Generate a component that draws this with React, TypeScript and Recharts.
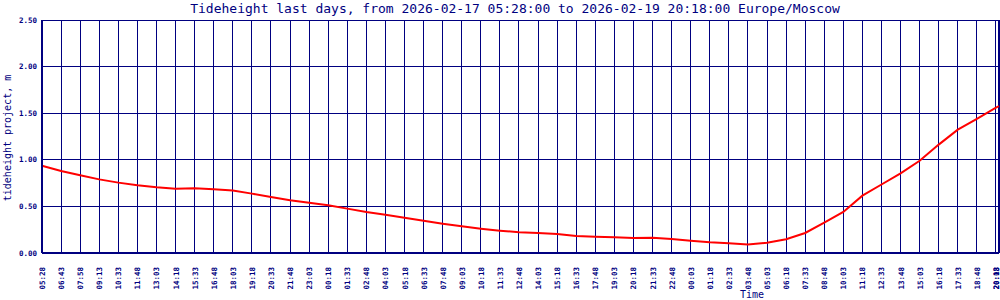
import React from 'react';
import {
  LineChart,
  Line,
  XAxis,
  YAxis,
  CartesianGrid,
  ReferenceLine
} from 'recharts';

// tick labels along the time axis (one every 75 min, plus the final sample)
const TIME_LABELS = [
  '05:28', '06:43', '07:58', '09:13', '10:33', '11:48', '13:03', '14:18', '15:33', '16:48',
  '18:03', '19:18', '20:33', '21:48', '23:03', '00:18', '01:33', '02:48', '04:03', '05:18',
  '06:33', '07:48', '09:03', '10:18', '11:33', '12:48', '14:03', '15:18', '16:33', '17:48',
  '19:03', '20:18', '21:33', '22:48', '00:03', '01:18', '02:33', '03:48', '05:03', '06:18',
  '07:33', '08:48', '10:03', '11:18', '12:33', '13:48', '15:03', '16:18', '17:33', '18:48',
  '20:03', '20:18'
];

// tide height, m, read at each label
const TIDE_HEIGHT = [
  0.937, 0.88, 0.834, 0.79, 0.755, 0.726, 0.705, 0.69, 0.694, 0.685,
  0.67, 0.637, 0.6, 0.565, 0.54, 0.512, 0.476, 0.44, 0.411, 0.379,
  0.347, 0.315, 0.286, 0.261, 0.24, 0.222, 0.214, 0.204, 0.182, 0.175,
  0.168, 0.161, 0.164, 0.15, 0.132, 0.115, 0.104, 0.09, 0.11, 0.147,
  0.215, 0.325, 0.44, 0.615, 0.735, 0.855, 0.99, 1.163, 1.323, 1.44,
  1.56, 1.575
];

const Y_TICKS = [0, 0.5, 1, 1.5, 2, 2.5];

const STEP_MIN = 75;   // spacing of the labelled samples
const END_MIN = 3762;  // last sample (20:18)

const NAVY = '#000080';

const minutes = TIME_LABELS.map((_, i) => (i === TIME_LABELS.length - 1 ? END_MIN : i * STEP_MIN));
const data = minutes.map((t, i) => ({ t, h: TIDE_HEIGHT[i] }));

const XTick = ({ x, y, payload }: any) => {
  const idx = minutes.indexOf(payload.value);
  const label = TIME_LABELS[idx] ?? '';
  // the final label sits on the frame edge, nudge it inside
  const tx = idx === TIME_LABELS.length - 1 ? x : x + 3;
  return (
    <text
      x={tx}
      y={y + 6}
      transform={`rotate(-90, ${tx}, ${y + 6})`}
      textAnchor="end"
      fill={NAVY}
      fontSize={7.5}
      fontWeight="bold"
      fontFamily="DejaVu Sans Mono"
    >
      {label}
    </text>
  );
};

const YTick = ({ y, payload }: any) => (
  <text
    x={37}
    y={y + 2.5}
    textAnchor="end"
    fill={NAVY}
    fontSize={7.5}
    fontWeight="bold"
    fontFamily="DejaVu Sans Mono"
  >
    {payload.value.toFixed(2)}
  </text>
);

export default function App() {
  return (
    <div style={{ position: 'absolute', left: 0, top: 0, width: 1000, height: 300, background: '#fff' }}>
      <style>{`
        .recharts-cartesian-grid line,
        .recharts-cartesian-axis-line,
        .recharts-reference-line line { shape-rendering: crispEdges; }
      `}</style>
      <LineChart
        width={1000}
        height={300}
        data={data}
        margin={{ top: 20, right: 1, left: 0, bottom: 0 }}
      >
        <text
          x={515}
          y={13}
          textAnchor="middle"
          fill={NAVY}
          fontSize={13}
          fontFamily="DejaVu Sans Mono"
        >
          Tideheight last days, from 2026-02-17 05:28:00 to 2026-02-19 20:18:00 Europe/Moscow
        </text>
        <text
          x={11}
          y={138}
          transform="rotate(-90, 11, 138)"
          textAnchor="middle"
          fill={NAVY}
          fontSize={10}
          fontFamily="DejaVu Sans Mono"
        >
          tideheight project, m
        </text>
        <text
          x={752}
          y={298}
          textAnchor="middle"
          fill={NAVY}
          fontSize={10}
          fontFamily="DejaVu Sans Mono"
        >
          Time
        </text>
        <CartesianGrid stroke={NAVY} strokeWidth={1} />
        <XAxis
          dataKey="t"
          type="number"
          domain={[0, END_MIN]}
          ticks={minutes}
          interval={0}
          height={47}
          tickLine={false}
          axisLine={{ stroke: NAVY, strokeWidth: 2 }}
          tick={<XTick />}
        />
        <YAxis
          type="number"
          domain={[0, 2.5]}
          ticks={Y_TICKS}
          interval={0}
          width={42}
          tickLine={false}
          axisLine={{ stroke: NAVY, strokeWidth: 2 }}
          tick={<YTick />}
        />
        <ReferenceLine x={END_MIN} stroke={NAVY} strokeWidth={2} />
        <Line
          type="linear"
          dataKey="h"
          stroke="#ff0000"
          strokeWidth={2}
          dot={false}
          isAnimationActive={false}
        />
      </LineChart>
    </div>
  );
}
